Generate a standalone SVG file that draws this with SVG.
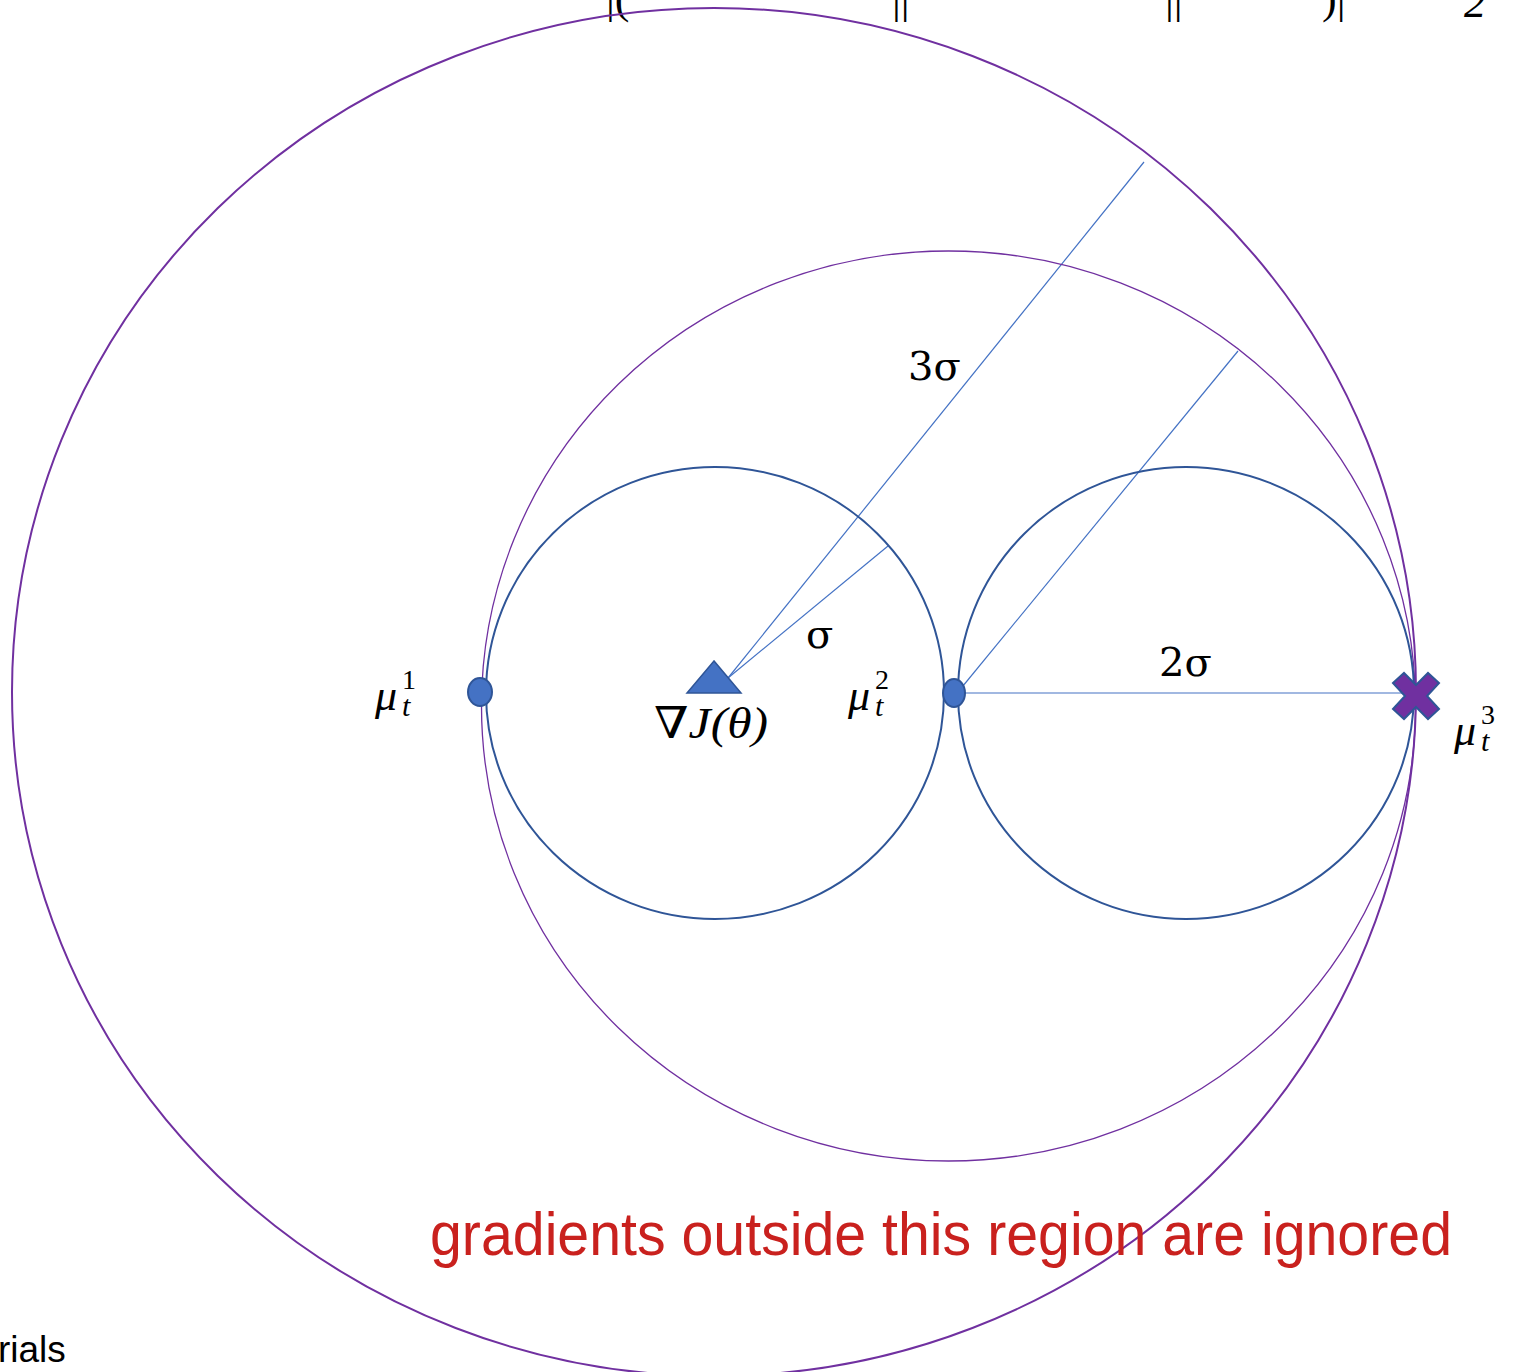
<svg xmlns="http://www.w3.org/2000/svg" width="1518" height="1372" viewBox="0 0 1518 1372">
<style>
.big{fill:none;stroke:#7030A0;stroke-width:2}
.mid{fill:none;stroke:#7030A0;stroke-width:1.3}
.small{fill:none;stroke:#2F5597;stroke-width:2}
.ray{stroke:#4472C4;stroke-width:1.2;fill:none}
.dot{fill:#4472C4;stroke:#2F5597;stroke-width:2}
.math{font-family:"Liberation Serif","DejaVu Serif",serif;font-style:italic;fill:#000;font-size:44px}
.sup{font-style:normal;font-size:28px}
.sub{font-size:30px}
.lbl{font-family:"DejaVu Serif","Liberation Serif",serif;fill:#000}
.top{font-family:"Liberation Serif",serif;fill:#000;font-size:44px}
</style>
<rect width="1518" height="1372" fill="#fff"/>
<g id="top-fragments">
<text class="top" x="606" y="13">|(</text>
<text class="top" x="892" y="13">||</text>
<text class="top" x="1165" y="13">||</text>
<text class="top" x="1322" y="13">)|</text>
<text class="top" x="1464" y="17" font-style="italic">2</text>
</g>
<g id="connectors">
<line class="ray" x1="728" y1="678" x2="1144" y2="162"/>
<line class="ray" x1="728" y1="678" x2="888" y2="546"/>
<line class="ray" x1="958" y1="692" x2="1238" y2="351"/>
<line class="ray" x1="958" y1="693" x2="1414" y2="693"/>
</g>
<g id="outer-region"><ellipse class="big" cx="714" cy="692" rx="702" ry="684"/></g>
<g id="middle-region"><ellipse class="mid" cx="948.5" cy="706" rx="467" ry="455"/></g>
<g id="left-circle"><ellipse class="small" cx="715" cy="693" rx="229" ry="226"/></g>
<g id="right-circle"><ellipse class="small" cx="1186" cy="693" rx="228" ry="226"/></g>
<g id="mu1">
<ellipse class="dot" cx="480" cy="692" rx="12" ry="14"/>
<text class="math" x="375" y="710">μ<tspan class="sup" dx="5" dy="-21">1</tspan><tspan class="sub" dx="-14" dy="27">t</tspan></text>
</g>
<g id="mu2">
<ellipse class="dot" cx="954" cy="693" rx="11" ry="14"/>
<text class="math" x="848" y="710">μ<tspan class="sup" dx="5" dy="-21">2</tspan><tspan class="sub" dx="-14" dy="27">t</tspan></text>
</g>
<g id="mu3">
<path d="M1393,683 L1404,673 L1416,685 L1428,673 L1439,683 L1427,696 L1439,709 L1428,719 L1416,707 L1404,719 L1393,709 L1405,696 Z" fill="#7030A0" stroke="#2F5597" stroke-width="2"/>
<text class="math" x="1454" y="745">μ<tspan class="sup" dx="5" dy="-21">3</tspan><tspan class="sub" dx="-14" dy="27">t</tspan></text>
</g>
<g id="gradient">
<polygon points="714,661 687,693 741,693" fill="#4472C4" stroke="#2F5597" stroke-width="1.5"/>
<text class="math" x="654" y="738" font-size="46" textLength="114" lengthAdjust="spacingAndGlyphs"><tspan font-style="normal">∇</tspan>J(θ)</text>
</g>
<g id="labels">
<text class="lbl" x="908" y="380" font-size="40">3σ</text>
<text class="lbl" x="806" y="648" font-size="40">σ</text>
<text class="lbl" x="1159" y="676" font-size="40">2σ</text>
</g>
<text x="430" y="1255" font-family="Liberation Sans, Arial, sans-serif" font-size="62" fill="#C9211E" textLength="1022" lengthAdjust="spacingAndGlyphs">gradients outside this region are ignored</text>
<text x="-2" y="1362" font-family="Liberation Sans, Arial, sans-serif" font-size="37" fill="#000">rials</text>
</svg>
